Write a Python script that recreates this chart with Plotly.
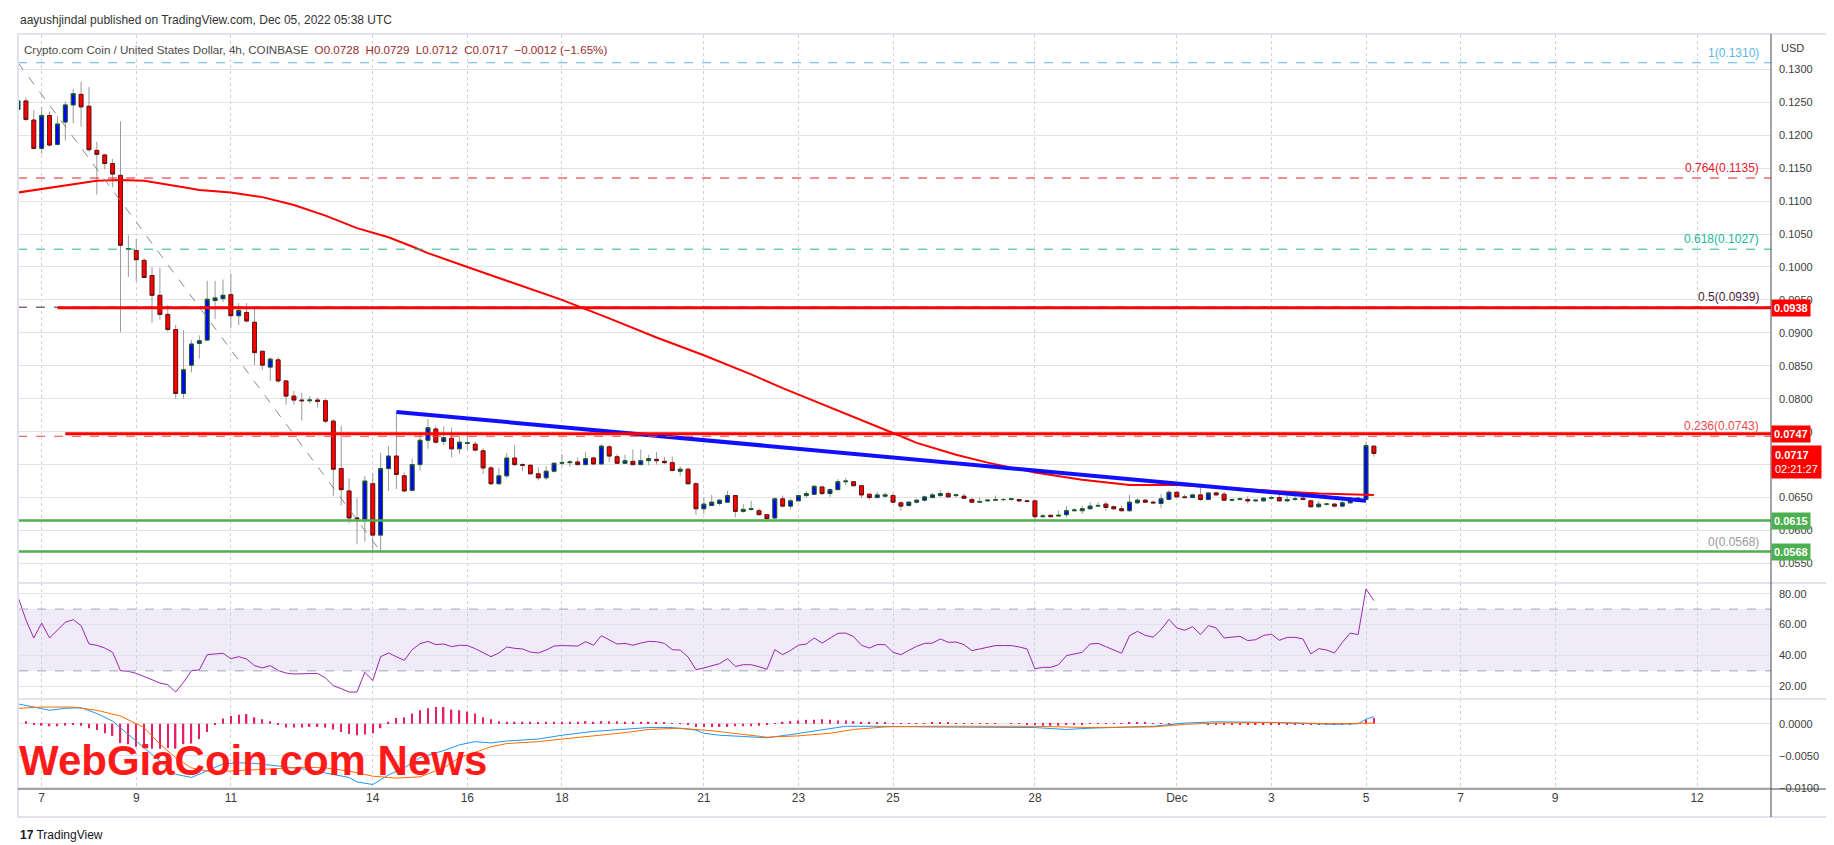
import pandas as pd
import plotly.graph_objects as go
from plotly.subplots import make_subplots

# ---- CRO/USD 4h candles (Coinbase), first visible bar 2022-11-06 12:00 UTC ----
first_bar = "2022-11-06 12:00"

opens = [
    0.1239, 0.1252, 0.1223,
    0.1180, 0.1230, 0.1186, 0.1220, 0.1246, 0.1262,
    0.1244, 0.1177, 0.1170, 0.1157, 0.1139, 0.1027,
    0.1025, 0.1010, 0.0987, 0.0957, 0.0928, 0.0905,
    0.0808, 0.0851, 0.0884, 0.0889, 0.0949, 0.0952,
    0.0958, 0.0926, 0.0931, 0.0916, 0.0872, 0.0848,
    0.0859, 0.0827, 0.0804, 0.0798, 0.0797, 0.0798,
    0.0797, 0.0766, 0.0694, 0.0660, 0.0619, 0.0617,
    0.0671, 0.0593, 0.0694, 0.0713, 0.0683, 0.0661,
    0.0700, 0.0737, 0.0754, 0.0735, 0.0740, 0.0724,
    0.0732, 0.0731, 0.0721, 0.0695, 0.0671, 0.0683,
    0.0710, 0.0700, 0.0699, 0.0686, 0.0680, 0.0690,
    0.0702, 0.0703, 0.0704, 0.0700, 0.0710, 0.0701,
    0.0727, 0.0712, 0.0702, 0.0705, 0.0700, 0.0706,
    0.0708, 0.0705, 0.0703, 0.0690, 0.0693, 0.0671,
    0.0633, 0.0638, 0.0641, 0.0643, 0.0653, 0.0629,
    0.0632, 0.0630, 0.0624, 0.0619, 0.0648, 0.0637,
    0.0645, 0.0653, 0.0655, 0.0666, 0.0656, 0.0662,
    0.0674, 0.0674, 0.0668, 0.0655, 0.0650, 0.0652,
    0.0653, 0.0642, 0.0638, 0.0643, 0.0646, 0.0650,
    0.0653, 0.0656, 0.0653, 0.0652, 0.0647, 0.0643,
    0.0645, 0.0646, 0.0647, 0.0647, 0.0647, 0.0645,
    0.0645, 0.0621, 0.0623, 0.0622, 0.0624, 0.0630,
    0.0630, 0.0633, 0.0637, 0.0640, 0.0636, 0.0633,
    0.0630, 0.0642, 0.0646, 0.0643, 0.0641, 0.0647,
    0.0658, 0.0651, 0.0650, 0.0654, 0.0647, 0.0657,
    0.0655, 0.0646, 0.0647, 0.0647, 0.0645, 0.0645,
    0.0649, 0.0650, 0.0645, 0.0647, 0.0649, 0.0645,
    0.0636, 0.0640, 0.0640, 0.0637, 0.0642, 0.0648,
    0.0647, 0.0728,
]
highs = [
    0.1310, 0.1257, 0.1238,
    0.1243, 0.1236, 0.1229, 0.1251, 0.1270, 0.1281,
    0.1273, 0.1190, 0.1172, 0.1164, 0.1221, 0.1048,
    0.1043, 0.1013, 0.1000, 0.0999, 0.0942, 0.0912,
    0.0904, 0.0889, 0.0896, 0.0979, 0.0979, 0.0981,
    0.0990, 0.0945, 0.0945, 0.0937, 0.0873, 0.0863,
    0.0863, 0.0828, 0.0812, 0.0809, 0.0804, 0.0802,
    0.0800, 0.0769, 0.0759, 0.0679, 0.0649, 0.0683,
    0.0687, 0.0718, 0.0728, 0.0780, 0.0688, 0.0709,
    0.0749, 0.0769, 0.0759, 0.0758, 0.0756, 0.0743,
    0.0750, 0.0735, 0.0725, 0.0698, 0.0695, 0.0718,
    0.0730, 0.0702, 0.0701, 0.0696, 0.0698, 0.0704,
    0.0716, 0.0707, 0.0711, 0.0719, 0.0712, 0.0731,
    0.0730, 0.0716, 0.0715, 0.0723, 0.0723, 0.0715,
    0.0719, 0.0712, 0.0712, 0.0697, 0.0695, 0.0673,
    0.0650, 0.0654, 0.0648, 0.0660, 0.0654, 0.0640,
    0.0645, 0.0634, 0.0625, 0.0650, 0.0653, 0.0648,
    0.0654, 0.0660, 0.0669, 0.0668, 0.0664, 0.0678,
    0.0680, 0.0675, 0.0669, 0.0656, 0.0658, 0.0658,
    0.0656, 0.0644, 0.0645, 0.0648, 0.0653, 0.0657,
    0.0661, 0.0659, 0.0656, 0.0656, 0.0650, 0.0650,
    0.0648, 0.0653, 0.0649, 0.0649, 0.0648, 0.0646,
    0.0646, 0.0625, 0.0624, 0.0630, 0.0637, 0.0634,
    0.0638, 0.0643, 0.0643, 0.0644, 0.0638, 0.0638,
    0.0654, 0.0649, 0.0648, 0.0645, 0.0655, 0.0661,
    0.0660, 0.0655, 0.0656, 0.0665, 0.0658, 0.0659,
    0.0659, 0.0649, 0.0650, 0.0652, 0.0648, 0.0651,
    0.0653, 0.0658, 0.0658, 0.0657, 0.0654, 0.0647,
    0.0645, 0.0642, 0.0641, 0.0645, 0.0650, 0.0650,
    0.0735, 0.0729,
]
lows = [
    0.1232, 0.1221, 0.1178,
    0.1172, 0.1183, 0.1184, 0.1192, 0.1218, 0.1213,
    0.1175, 0.1110, 0.1148, 0.1121, 0.0901, 0.0985,
    0.0978, 0.0983, 0.0915, 0.0920, 0.0902, 0.0800,
    0.0800, 0.0840, 0.0861, 0.0888, 0.0921, 0.0947,
    0.0907, 0.0912, 0.0916, 0.0851, 0.0844, 0.0827,
    0.0824, 0.0791, 0.0791, 0.0767, 0.0793, 0.0787,
    0.0763, 0.0652, 0.0638, 0.0611, 0.0579, 0.0583,
    0.0569, 0.0568, 0.0660, 0.0663, 0.0659, 0.0660,
    0.0691, 0.0724, 0.0732, 0.0730, 0.0711, 0.0716,
    0.0723, 0.0720, 0.0686, 0.0669, 0.0669, 0.0680,
    0.0698, 0.0690, 0.0686, 0.0676, 0.0677, 0.0688,
    0.0697, 0.0697, 0.0699, 0.0699, 0.0700, 0.0700,
    0.0704, 0.0701, 0.0701, 0.0699, 0.0699, 0.0699,
    0.0700, 0.0701, 0.0690, 0.0683, 0.0669, 0.0624,
    0.0625, 0.0637, 0.0638, 0.0642, 0.0620, 0.0627,
    0.0630, 0.0623, 0.0617, 0.0618, 0.0635, 0.0632,
    0.0645, 0.0650, 0.0654, 0.0654, 0.0651, 0.0661,
    0.0669, 0.0667, 0.0649, 0.0647, 0.0649, 0.0651,
    0.0642, 0.0630, 0.0636, 0.0641, 0.0644, 0.0649,
    0.0651, 0.0650, 0.0650, 0.0648, 0.0642, 0.0642,
    0.0644, 0.0645, 0.0644, 0.0645, 0.0644, 0.0643,
    0.0614, 0.0620, 0.0620, 0.0621, 0.0620, 0.0629,
    0.0625, 0.0632, 0.0636, 0.0630, 0.0631, 0.0629,
    0.0629, 0.0641, 0.0642, 0.0641, 0.0634, 0.0646,
    0.0650, 0.0649, 0.0649, 0.0645, 0.0646, 0.0653,
    0.0645, 0.0644, 0.0645, 0.0641, 0.0644, 0.0644,
    0.0647, 0.0644, 0.0644, 0.0645, 0.0646, 0.0635,
    0.0635, 0.0638, 0.0635, 0.0635, 0.0641, 0.0646,
    0.0644, 0.0712,
]
closes = [
    0.1252, 0.1224, 0.1180,
    0.1230, 0.1185, 0.1217, 0.1246, 0.1263, 0.1243,
    0.1178, 0.1171, 0.1157, 0.1141, 0.1033, 0.1028,
    0.1011, 0.0984, 0.0957, 0.0928, 0.0905, 0.0808,
    0.0844, 0.0883, 0.0888, 0.0951, 0.0953, 0.0957,
    0.0926, 0.0934, 0.0918, 0.0870, 0.0851, 0.0860,
    0.0827, 0.0804, 0.0798, 0.0797, 0.0798, 0.0796,
    0.0766, 0.0693, 0.0662, 0.0619, 0.0618, 0.0675,
    0.0593, 0.0694, 0.0713, 0.0685, 0.0660, 0.0700,
    0.0737, 0.0756, 0.0734, 0.0741, 0.0724, 0.0734,
    0.0733, 0.0722, 0.0695, 0.0671, 0.0683, 0.0710,
    0.0700, 0.0699, 0.0686, 0.0680, 0.0690, 0.0702,
    0.0703, 0.0704, 0.0700, 0.0709, 0.0701, 0.0728,
    0.0713, 0.0702, 0.0706, 0.0700, 0.0706, 0.0709,
    0.0706, 0.0703, 0.0691, 0.0693, 0.0671, 0.0633,
    0.0640, 0.0643, 0.0646, 0.0653, 0.0629, 0.0632,
    0.0633, 0.0624, 0.0618, 0.0648, 0.0637, 0.0645,
    0.0653, 0.0656, 0.0667, 0.0656, 0.0662, 0.0674,
    0.0675, 0.0668, 0.0654, 0.0650, 0.0654, 0.0654,
    0.0643, 0.0637, 0.0643, 0.0646, 0.0651, 0.0654,
    0.0656, 0.0651, 0.0654, 0.0649, 0.0643, 0.0644,
    0.0646, 0.0647, 0.0647, 0.0648, 0.0645, 0.0644,
    0.0621, 0.0622, 0.0621, 0.0623, 0.0630, 0.0631,
    0.0633, 0.0637, 0.0638, 0.0635, 0.0633, 0.0630,
    0.0643, 0.0646, 0.0643, 0.0642, 0.0648, 0.0658,
    0.0651, 0.0650, 0.0654, 0.0647, 0.0657, 0.0654,
    0.0646, 0.0647, 0.0648, 0.0645, 0.0646, 0.0649,
    0.0650, 0.0645, 0.0647, 0.0648, 0.0647, 0.0636,
    0.0640, 0.0640, 0.0637, 0.0642, 0.0649, 0.0649,
    0.0729, 0.0717,
]

# RSI(14), one value per bar
rsi = [
    78.0, 63.0, 51.3, 61.0, 51.3, 56.7, 61.5, 63.2, 59.3, 47.4,
    46.6, 44.8, 42.0, 30.1, 29.7, 28.4, 26.5, 24.3, 22.1, 21.1,
    16.3, 22.6, 30.1, 30.6, 40.5, 41.0, 41.4, 37.9, 39.2, 37.7,
    33.4, 31.9, 33.4, 30.3, 28.6, 28.0, 28.0, 28.0, 28.4, 25.4,
    20.4, 18.5, 16.3, 16.3, 29.1, 23.7, 39.2, 41.6, 39.4, 36.8,
    43.7, 47.6, 49.1, 47.0, 47.4, 45.7, 46.6, 46.4, 44.4, 41.6,
    39.2, 41.6, 45.5, 44.6, 44.2, 42.2, 41.6, 43.5, 46.1, 46.4,
    46.4, 46.1, 48.9, 46.6, 52.8, 50.2, 47.4, 47.8, 46.6, 48.0,
    49.1, 48.9, 47.8, 43.7, 43.5, 39.0, 30.8, 31.9, 33.4, 34.7,
    37.9, 32.9, 34.0, 34.0, 32.7, 31.0, 43.7, 40.5, 43.3, 46.6,
    47.4, 51.3, 48.0, 50.9, 54.3, 54.5, 52.2, 46.6, 44.8, 47.0,
    47.0, 42.0, 40.5, 43.3, 45.9, 47.8, 48.0, 50.7, 48.5, 48.7,
    47.0, 43.1, 44.2, 45.5, 46.4, 46.4, 46.4, 45.5, 44.2, 31.4,
    32.3, 32.3, 34.0, 39.9, 41.0, 42.0, 47.4, 47.8, 45.7, 43.7,
    41.4, 52.8, 55.6, 53.0, 51.9, 56.7, 63.4, 57.8, 56.3, 58.6,
    53.5, 59.3, 57.8, 51.3, 51.7, 52.4, 49.6, 50.2, 53.0, 53.7,
    49.8, 51.7, 51.7, 50.7, 41.0, 44.4, 43.5, 41.6, 48.5, 54.5,
    53.5, 83.1, 75.5,
]

# MACD histogram, one value per bar
macd_hist = [
    0.0007, 0.0004, -0.0002, -0.0003, -0.0004, -0.0004, -0.0003, -0.0002, -0.0003, -0.0007,
    -0.0010, -0.0015, -0.0019, -0.0030, -0.0032, -0.0036, -0.0038, -0.0039, -0.0039, -0.0038,
    -0.0039, -0.0032, -0.0031, -0.0024, -0.0013, -0.0002, 0.0008, 0.0012, 0.0014, 0.0015,
    0.0010, 0.0007, 0.0004, -0.0002, -0.0006, -0.0006, -0.0006, -0.0005, -0.0005, -0.0006,
    -0.0009, -0.0013, -0.0016, -0.0018, -0.0017, -0.0015, -0.0007, 0.0003, 0.0009, 0.0010,
    0.0016, 0.0021, 0.0024, 0.0026, 0.0026, 0.0022, 0.0021, 0.0019, 0.0016, 0.0010,
    0.0007, 0.0004, 0.0003, 0.0003, 0.0003, 0.0003, 0.0002, 0.0003, 0.0003, 0.0003,
    0.0003, 0.0003, 0.0004, 0.0003, 0.0004, 0.0004, 0.0004, 0.0003, 0.0003, 0.0003,
    0.0003, 0.0002, 0.0002, 0.0001, 0.0001, -0.0002, -0.0005, -0.0005, -0.0005, -0.0005,
    -0.0005, -0.0004, -0.0004, -0.0004, -0.0003, -0.0002, 0.0001, 0.0003, 0.0004, 0.0005,
    0.0006, 0.0006, 0.0007, 0.0006, 0.0005, 0.0005, 0.0004, 0.0003, 0.0002, 0.0002,
    0.0002, 0.0001, 0.0001, 0.0001, 0.0001, 0.0001, 0.0002, 0.0002, 0.0002, 0.0001,
    0.0001, 0.0001, 0.0001, 0.0001, 0.0001, 0.0000, 0.0001, 0.0001, -0.0001, -0.0002,
    -0.0003, -0.0003, -0.0003, -0.0002, -0.0002, -0.0001, 0.0001, 0.0001, 0.0001, 0.0001,
    0.0001, 0.0002, 0.0002, 0.0002, 0.0001, 0.0001, 0.0001, 0.0000, 0.0000, 0.0000,
    0.0000, -0.0001, -0.0001, -0.0001, -0.0001, -0.0001, -0.0001, -0.0001, -0.0001, -0.0001,
    -0.0001, -0.0001, -0.0001, -0.0001, -0.0002, -0.0002, -0.0002, -0.0002, -0.0001, -0.0001,
    0.0000, 0.0006, 0.0009,
]

# MACD and signal lines, read at bar indices
macd_bars = [0, 2, 4, 6, 8, 10, 12, 14, 16, 18, 20, 22, 24, 26, 28, 30, 33, 35, 37, 39,
             42, 43, 45, 47, 49, 51, 54, 56, 58, 60, 62, 66, 69, 73, 77, 80, 83, 86, 87, 89,
             92, 95, 98, 101, 105, 109, 112, 115, 129, 133, 136, 144, 148, 152, 159, 167,
             170, 171, 172]
macd_line = [0.0031, 0.0026, 0.0021, 0.0024, 0.0025, 0.0016, 0.0004, -0.0017, -0.0038, -0.0058,
             -0.0079, -0.0084, -0.0073, -0.0063, -0.0061, -0.0062, -0.0066, -0.0069, -0.0072, -0.0077,
             -0.0084, -0.0091, -0.0095, -0.0080, -0.0069, -0.0053, -0.0042, -0.0033, -0.0028, -0.0030,
             -0.0027, -0.0024, -0.0018, -0.0012, -0.0009, -0.0006, -0.0006, -0.0010, -0.0015, -0.0018,
             -0.0020, -0.0022, -0.0017, -0.0011, -0.0004, -0.0004, -0.0005, -0.0005, -0.0006, -0.0009,
             -0.0007, -0.0004, 0.0001, 0.0003, 0.0002, -0.0001, 0.0000, 0.0007, 0.0011]
signal_bars = [0, 3, 7, 10, 13, 16, 18, 20, 22, 24, 27, 30, 33, 36, 39, 42, 45, 48, 51, 54,
               56, 60, 62, 66, 69, 73, 77, 80, 84, 88, 92, 95, 99, 103, 106, 110, 115, 129,
               136, 144, 148, 152, 159, 167, 172]
signal_line = [0.0024, 0.0026, 0.0026, 0.0021, 0.0012, -0.0006, -0.0032, -0.0053, -0.0069, -0.0074,
               -0.0074, -0.0072, -0.0069, -0.0068, -0.0069, -0.0074, -0.0082, -0.0085, -0.0083, -0.0069,
               -0.0053, -0.0036, -0.0031, -0.0028, -0.0024, -0.0019, -0.0014, -0.0009, -0.0007, -0.0011,
               -0.0017, -0.0021, -0.0019, -0.0015, -0.0009, -0.0005, -0.0004, -0.0004, -0.0006, -0.0005,
               -0.0001, 0.0001, 0.0002, 0.0000, 0.0001]

# red moving average on the price pane
ma_times = ["2022-11-06 12:00", "2022-11-07 04:00", "2022-11-08 04:00", "2022-11-08 16:00",
            "2022-11-09 04:00", "2022-11-10 00:00", "2022-11-10 08:00", "2022-11-11 00:00",
            "2022-11-11 16:00", "2022-11-12 08:00", "2022-11-13 00:00", "2022-11-13 16:00",
            "2022-11-14 08:00", "2022-11-14 20:00", "2022-11-15 04:00", "2022-11-16 00:00",
            "2022-11-17 00:00", "2022-11-18 00:00", "2022-11-19 00:00", "2022-11-20 00:00",
            "2022-11-21 00:00", "2022-11-22 00:00", "2022-11-22 16:00", "2022-11-23 12:00",
            "2022-11-24 08:00", "2022-11-25 00:00", "2022-11-25 12:00", "2022-11-26 08:00",
            "2022-11-27 00:00", "2022-11-28 00:00", "2022-11-29 00:00", "2022-11-30 00:00",
            "2022-12-01 00:00", "2022-12-02 00:00", "2022-12-03 00:00", "2022-12-04 00:00",
            "2022-12-05 04:00"]
ma_values = [0.1113, 0.1120, 0.1131, 0.1132, 0.1131, 0.1121, 0.1117, 0.1113,
             0.1106, 0.1094, 0.1078, 0.1059, 0.1045, 0.1031, 0.1021, 0.1000,
             0.0975, 0.0950, 0.0922, 0.0893, 0.0866, 0.0837, 0.0816, 0.0792,
             0.0768, 0.0748, 0.0733, 0.0715, 0.0703, 0.0688, 0.0677, 0.0669,
             0.0669, 0.0665, 0.0660, 0.0656, 0.0654]

# drawings
trend_times = ["2022-11-14 12:00", "2022-12-05 00:00"]
trend_prices = [0.0780, 0.0645]
fib_anchor_times = ["2022-11-06 12:00", "2022-11-14 04:00"]
fib_anchor_prices = [0.1310, 0.0568]
fib_ratios = [1, 0.764, 0.618, 0.5, 0.236, 0]
fib_prices = [0.1310, 0.1135, 0.1027, 0.0939, 0.0743, 0.0568]
resistance_levels = [0.0938, 0.0747]
resistance_starts = ["2022-11-07 08:00", "2022-11-07 12:00"]
support_levels = [0.0615, 0.0568]
countdown = "02:21:27"

price_ticks = [0.0550, 0.0600, 0.0650, 0.0700, 0.0750, 0.0800, 0.0850, 0.0900,
               0.0950, 0.1000, 0.1050, 0.1100, 0.1150, 0.1200, 0.1250, 0.1300]
rsi_ticks = [20, 40, 60, 80]
macd_ticks = [-0.0100, -0.0050, 0.0000]
date_ticks = ["2022-11-07", "2022-11-09", "2022-11-11", "2022-11-14", "2022-11-16",
              "2022-11-18", "2022-11-21", "2022-11-23", "2022-11-25", "2022-11-28",
              "2022-12-01", "2022-12-03", "2022-12-05", "2022-12-07", "2022-12-09",
              "2022-12-12"]
date_labels = ["7", "9", "11", "14", "16", "18", "21", "23", "25", "28",
               "Dec", "3", "5", "7", "9", "12"]

times = pd.date_range(first_bar, periods=len(opens), freq="4h")

# ---- page geometry (pixels) ----
W, H = 1834, 845
ML, MR, MT, MB = 11, 71, 27, 64
X_START, X_END = "2022-11-06 12:30", "2022-12-13 13:30"


def px(x):
    return (x - ML) / (W - ML - MR)


def py(y):
    return (H - MB - y) / (H - MT - MB)


FONT = "Liberation Sans, Arial, sans-serif"
GRID = "#e1e3e8"
AXIS_TXT = "#3c3c3c"

fig = make_subplots(rows=3, cols=1, shared_xaxes=True, vertical_spacing=0)

# wicks (grey) then bodies with dark outlines on top
fig.add_trace(go.Candlestick(
    x=times, open=opens, high=highs, low=lows, close=closes,
    increasing=dict(line=dict(color="#9a9a9a", width=1), fillcolor="rgba(0,0,0,0)"),
    decreasing=dict(line=dict(color="#9a9a9a", width=1), fillcolor="rgba(0,0,0,0)"),
    hoverinfo="skip", showlegend=False), row=1, col=1)
body_hi = [max(o, c) for o, c in zip(opens, closes)]
body_lo = [min(o, c) for o, c in zip(opens, closes)]
fig.add_trace(go.Candlestick(
    x=times, open=opens, high=body_hi, low=body_lo, close=closes,
    increasing=dict(line=dict(color="#1b5e20", width=1), fillcolor="#0000ff"),
    decreasing=dict(line=dict(color="#6b0f0f", width=1), fillcolor="#ff0000"),
    showlegend=False), row=1, col=1)

fig.add_trace(go.Scatter(x=ma_times, y=ma_values, mode="lines",
                         line=dict(color="#ff0000", width=2), showlegend=False), row=1, col=1)
fig.add_trace(go.Scatter(x=trend_times, y=trend_prices, mode="lines",
                         line=dict(color="#1010ff", width=4), showlegend=False), row=1, col=1)
fig.add_trace(go.Scatter(x=fib_anchor_times, y=fib_anchor_prices, mode="lines",
                         line=dict(color="#8a8a8a", width=1, dash="dash"), showlegend=False),
              row=1, col=1)

# RSI
fig.add_trace(go.Scatter(x=times, y=rsi, mode="lines",
                         line=dict(color="#9c27b0", width=1), showlegend=False), row=2, col=1)

# MACD
fig.add_trace(go.Bar(x=times, y=macd_hist, marker=dict(color="#e91e63", line=dict(width=0)),
                     width=4 * 3600 * 1000 * 0.18, showlegend=False), row=3, col=1)
fig.add_trace(go.Scatter(x=times[macd_bars], y=macd_line, mode="lines",
                         line=dict(color="#2196f3", width=1), showlegend=False), row=3, col=1)
fig.add_trace(go.Scatter(x=times[signal_bars], y=signal_line, mode="lines",
                         line=dict(color="#ff6d00", width=1), showlegend=False), row=3, col=1)

shapes = []
fib_colors = ["#5fb3e8", "#e0202a", "#22b59a", "#4a1f3a", "#e84c4c", "#9a9a9a"]
for p, col in zip(fib_prices, fib_colors):
    shapes.append(dict(type="line", xref="x", yref="y", x0=fib_anchor_times[0], x1=X_END,
                       y0=p, y1=p, line=dict(color=col, width=1, dash="dash")))
for p, start in zip(resistance_levels, resistance_starts):
    shapes.append(dict(type="line", xref="x", yref="y", x0=start, x1=X_END,
                       y0=p, y1=p, line=dict(color="#ff0000", width=3)))
for p in support_levels:
    shapes.append(dict(type="line", xref="x", yref="y", x0=X_START, x1=X_END,
                       y0=p, y1=p, line=dict(color="#4caf50", width=2.5)))

# RSI band
shapes.append(dict(type="rect", xref="x2", yref="y2", x0=X_START, x1=X_END, y0=30, y1=70,
                   fillcolor="rgba(126,87,194,0.12)", line=dict(width=0), layer="below"))
for lvl in (70, 30):
    shapes.append(dict(type="line", xref="x2", yref="y2", x0=X_START, x1=X_END, y0=lvl, y1=lvl,
                       line=dict(color="#a6a6b4", width=1, dash="dash")))

# frame, separators, axis lines
shapes.append(dict(type="rect", xref="paper", yref="paper", x0=px(10), x1=px(1823),
                   y0=py(809), y1=py(26), line=dict(color="#e0e3eb", width=2)))
for yy in (575, 691):
    shapes.append(dict(type="line", xref="paper", yref="paper", x0=px(10), x1=px(1823),
                       y0=py(yy), y1=py(yy), line=dict(color="#e0e3eb", width=2)))
shapes.append(dict(type="line", xref="paper", yref="paper", x0=1, x1=1, y0=py(809), y1=py(26),
                   line=dict(color="#4a4a4a", width=1)))
shapes.append(dict(type="line", xref="paper", yref="paper", x0=px(10), x1=px(1823),
                   y0=py(781), y1=py(781), line=dict(color="#4a4a4a", width=1)))

ann = []
ann.append(dict(xref="paper", yref="paper", x=px(10), y=py(12), xanchor="left", yanchor="middle",
                text="aayushjindal published on TradingView.com, Dec 05, 2022 05:38 UTC",
                showarrow=False, font=dict(family=FONT, size=12, color="#333333")))
chg = closes[-1] - closes[-2]
pct = chg / closes[-2] * 100
vals = (f"O{opens[-1]:.4f}\u00a0\u00a0H{highs[-1]:.4f}\u00a0\u00a0L{lows[-1]:.4f}\u00a0\u00a0"
        f"C{closes[-1]:.4f}\u00a0\u00a0{chg:+.4f} ({pct:+.2f}%)").replace("-", "\u2212")
ann.append(dict(xref="paper", yref="paper", x=px(14), y=py(42), xanchor="left", yanchor="middle",
                text="Crypto.com Coin / United States Dollar, 4h, COINBASE\u00a0\u00a0"
                     f"<span style='color:#9b2b2b'>{vals}</span>",
                showarrow=False, font=dict(family=FONT, size=11.6, color="#4a4a4a")))
ann.append(dict(xref="paper", yref="paper", x=px(1771), y=py(40), xanchor="left", yanchor="middle",
                text="USD", showarrow=False, font=dict(family=FONT, size=11, color=AXIS_TXT)))

for r, p, col in zip(fib_ratios, fib_prices, fib_colors):
    ann.append(dict(xref="paper", yref="y", x=px(1753), y=p, xanchor="right", yanchor="bottom",
                    yshift=1, text=f"{r:g}({p:.4f})", showarrow=False,
                    font=dict(family=FONT, size=12, color=col)))

for p in resistance_levels:
    ann.append(dict(xref="paper", yref="y", x=1, y=p, xanchor="left", yanchor="middle",
                    text=f"<b>{p:.4f}</b>", showarrow=False, bgcolor="#ff0000", borderpad=2,
                    font=dict(family=FONT, size=11, color="white")))
for p in support_levels:
    ann.append(dict(xref="paper", yref="y", x=1, y=p, xanchor="left", yanchor="middle",
                    text=f"<b>{p:.4f}</b>", showarrow=False, bgcolor="#4caf50", borderpad=2,
                    font=dict(family=FONT, size=11, color="white")))
ann.append(dict(xref="paper", yref="y", x=1, y=closes[-1], xanchor="left", yanchor="top",
                yshift=8, text=f"<b>{closes[-1]:.4f}</b><br>{countdown}", showarrow=False,
                bgcolor="#ff0000", borderpad=3, align="left",
                font=dict(family=FONT, size=11, color="white")))

ann.append(dict(xref="paper", yref="paper", x=px(9), y=py(752), xanchor="left", yanchor="middle",
                text="WebGiaCoin.com News", showarrow=False,
                font=dict(family="Liberation Sans, Arial, sans-serif",
                          size=42, color="#ff1a1a", weight="bold")))
ann.append(dict(xref="paper", yref="paper", x=px(10), y=py(827), xanchor="left", yanchor="middle",
                text="<b>17</b> TradingView", showarrow=False,
                font=dict(family=FONT, size=12, color="#131722")))

fig.update_layout(
    width=W, height=H,
    margin=dict(l=ML, r=MR, t=MT, b=MB),
    paper_bgcolor="white", plot_bgcolor="white",
    showlegend=False, hovermode=False, boxgap=0.3,
    shapes=shapes, annotations=ann,
    yaxis=dict(domain=[py(575), 1]),
    yaxis2=dict(domain=[py(691), py(575)]),
    yaxis3=dict(domain=[0, py(691)]),
)

for r in (1, 2, 3):
    fig.update_xaxes(row=r, col=1, type="date", range=[X_START, X_END],
                     rangeslider_visible=False, tickvals=date_ticks, ticktext=date_labels,
                     showgrid=True, gridcolor="#cfd2d8", griddash="dot", gridwidth=1,
                     showticklabels=(r == 3), ticks="", zeroline=False, showline=False,
                     tickfont=dict(family=FONT, size=12, color=AXIS_TXT))

yax = dict(side="right", showgrid=True, gridcolor=GRID, gridwidth=1, zeroline=False,
           ticks="", ticklabelstandoff=7, showline=False,
           tickfont=dict(family=FONT, size=11, color=AXIS_TXT))
fig.update_yaxes(row=1, col=1, range=[0.05203, 0.13521], tickvals=price_ticks,
                 tickformat=".4f", **yax)
fig.update_yaxes(row=2, col=1, range=[11.8, 86.9], tickvals=rsi_ticks,
                 tickformat=".2f", **yax)
fig.update_yaxes(row=3, col=1, range=[-0.0102, 0.00386], tickvals=macd_ticks,
                 tickformat=".4f", **yax)

fig.write_html("out.html")
